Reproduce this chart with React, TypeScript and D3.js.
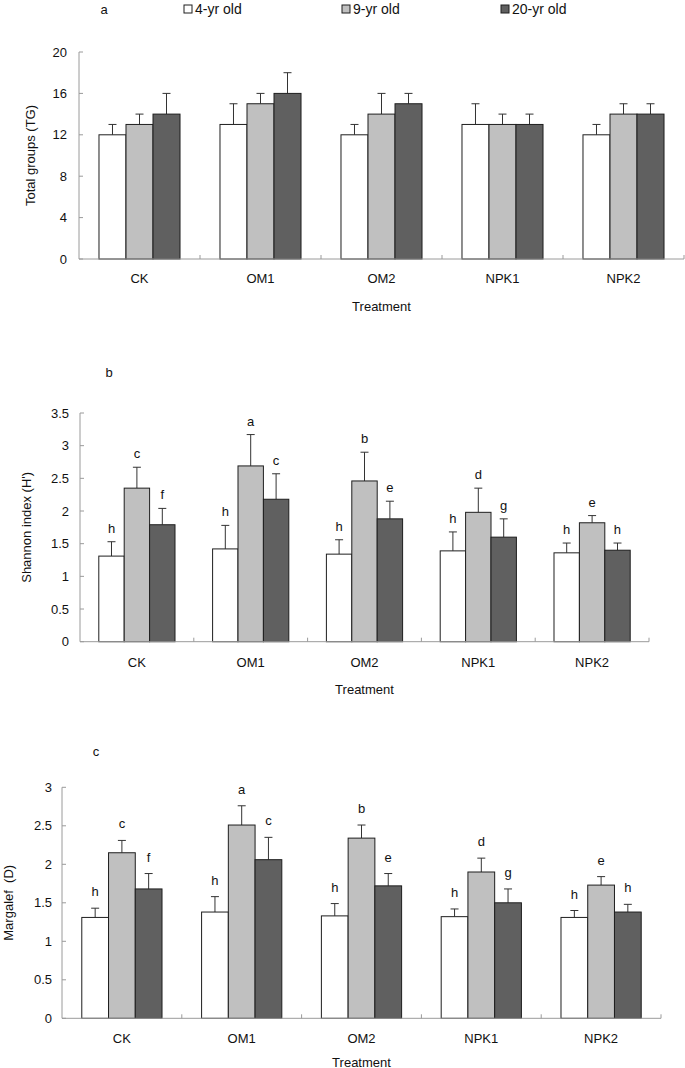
import * as d3 from 'd3';

const treatments = ['CK', 'OM1', 'OM2', 'NPK1', 'NPK2'];
const ages = ['4-yr old', '9-yr old', '20-yr old'];
const ageFills = ['#ffffff', '#c0c0c0', '#606060'];

// panel a: total groups (mean, sd) per treatment x age
const tgMean = [
  [12, 13, 14],
  [13, 15, 16],
  [12, 14, 15],
  [13, 13, 13],
  [12, 14, 14],
];
const tgSd = [
  [1, 1, 2],
  [2, 1, 2],
  [1, 2, 1],
  [2, 1, 1],
  [1, 1, 1],
];
const tgTicks = [0, 4, 8, 12, 16, 20];

// panel b: Shannon index
const shMean = [
  [1.31, 2.35, 1.79],
  [1.42, 2.69, 2.18],
  [1.34, 2.46, 1.88],
  [1.39, 1.98, 1.6],
  [1.36, 1.82, 1.4],
];
const shSd = [
  [0.22, 0.32, 0.25],
  [0.36, 0.48, 0.39],
  [0.22, 0.44, 0.27],
  [0.29, 0.37, 0.28],
  [0.15, 0.11, 0.11],
];
const shLetters = [
  ['h', 'c', 'f'],
  ['h', 'a', 'c'],
  ['h', 'b', 'e'],
  ['h', 'd', 'g'],
  ['h', 'e', 'h'],
];
const shTicks = [0, 0.5, 1, 1.5, 2, 2.5, 3, 3.5];

// panel c: Margalef
const mgMean = [
  [1.31, 2.15, 1.68],
  [1.38, 2.51, 2.06],
  [1.33, 2.34, 1.72],
  [1.32, 1.9, 1.5],
  [1.31, 1.73, 1.38],
];
const mgSd = [
  [0.12, 0.16, 0.2],
  [0.2, 0.25, 0.29],
  [0.16, 0.17, 0.16],
  [0.1, 0.18, 0.18],
  [0.09, 0.11, 0.1],
];
const mgLetters = [
  ['h', 'c', 'f'],
  ['h', 'a', 'c'],
  ['h', 'b', 'e'],
  ['h', 'd', 'g'],
  ['h', 'e', 'h'],
];
const mgTicks = [0, 0.5, 1, 1.5, 2, 2.5, 3];

const FONT = '"Liberation Sans", Arial, sans-serif';
const AXIS = '#9a9a9a';
const INK = '#1e1e1e';

type PanelProps = {
  left: number;
  right: number;
  top: number;
  bottom: number;
  ticks: number[];
  means: number[][];
  sds: number[][];
  letters?: string[][];
  letterGap?: number;
  yLabel: string;
  yLabelX: number;
  tickGap: number;
  catY: number;
  treatY: number;
  tag?: string;
  tagX?: number;
  tagY?: number;
};

function Panel(p: PanelProps) {
  const y = d3
    .scaleLinear()
    .domain([0, d3.max(p.ticks) as number])
    .range([p.bottom, p.top]);
  const x0 = d3.scaleBand<string>().domain(treatments).range([p.left, p.right]).padding(0);
  const x1 = d3
    .scaleBand<string>()
    .domain(ages)
    .range([0, x0.bandwidth()])
    .paddingInner(0)
    .paddingOuter(0.74);
  const bw = x1.bandwidth();
  const boundaries = treatments.map((t) => (x0(t) as number) + x0.step());
  const gap = p.letterGap ?? 9;

  return (
    <g fontFamily={FONT} fill="#111">
      {p.tag && (
        <text x={p.tagX} y={p.tagY} fontSize={13} textAnchor="middle" dominantBaseline="central">
          {p.tag}
        </text>
      )}
      {/* y axis */}
      <line x1={p.left} x2={p.left} y1={p.top} y2={p.bottom} stroke={AXIS} />
      {p.ticks.map((t) => (
        <g key={t}>
          <line x1={p.left} x2={p.left + 4} y1={y(t)} y2={y(t)} stroke={AXIS} />
          <text
            x={p.left - p.tickGap}
            y={y(t)}
            fontSize={13}
            textAnchor="end"
            dominantBaseline="central"
          >
            {String(t)}
          </text>
        </g>
      ))}
      <text
        transform={`translate(${p.yLabelX},${(p.top + p.bottom) / 2}) rotate(-90)`}
        fontSize={13}
        textAnchor="middle"
        dominantBaseline="central"
        style={{ whiteSpace: 'pre' }}
      >
        {p.yLabel}
      </text>
      {/* bars */}
      {treatments.map((t, i) => (
        <g key={t} transform={`translate(${x0(t)},0)`}>
          {ages.map((a, j) => {
            const m = p.means[i][j];
            const top = y(m + p.sds[i][j]);
            const cx = (x1(a) as number) + bw / 2;
            return (
              <g key={a}>
                <line x1={cx} x2={cx} y1={y(m)} y2={top} stroke="#333" />
                <line x1={cx - 4} x2={cx + 4} y1={top} y2={top} stroke="#333" />
                <rect
                  x={x1(a)}
                  y={y(m)}
                  width={bw}
                  height={p.bottom - y(m)}
                  fill={ageFills[j]}
                  stroke={INK}
                  strokeWidth={1}
                />
                {p.letters && (
                  <text x={cx} y={top - gap} fontSize={13} textAnchor="middle">
                    {p.letters[i][j]}
                  </text>
                )}
              </g>
            );
          })}
        </g>
      ))}
      {/* x axis */}
      <line x1={p.left} x2={p.right} y1={p.bottom} y2={p.bottom} stroke={AXIS} />
      {boundaries.map((bx, i) => (
        <line key={i} x1={bx} x2={bx} y1={p.bottom} y2={p.bottom - 4} stroke={AXIS} />
      ))}
      {treatments.map((t) => (
        <text
          key={t}
          x={(x0(t) as number) + x0.bandwidth() / 2}
          y={p.catY}
          fontSize={13}
          textAnchor="middle"
          dominantBaseline="central"
        >
          {t}
        </text>
      ))}
      <text
        x={(p.left + p.right) / 2}
        y={p.treatY}
        fontSize={13}
        textAnchor="middle"
        dominantBaseline="central"
      >
        Treatment
      </text>
    </g>
  );
}

function Legend() {
  const boxX = [188, 346, 505];
  return (
    <g fontFamily={FONT} fill="#111">
      <text x={104} y={9} fontSize={13} textAnchor="middle" dominantBaseline="central">
        a
      </text>
      {ages.map((a, j) => (
        <g key={a}>
          <rect x={boxX[j] - 4} y={5} width={8} height={8} fill={ageFills[j]} stroke={INK} />
          <text x={boxX[j] + 7} y={9} fontSize={14} dominantBaseline="central">
            {a}
          </text>
        </g>
      ))}
    </g>
  );
}

export default function App() {
  return (
    <svg
      width={685}
      height={1068}
      viewBox="0 0 685 1068"
      style={{ position: 'absolute', left: 0, top: 0, background: '#fff' }}
    >
      <rect width={685} height={1068} fill="#fff" />
      <Legend />
      <Panel
        left={79}
        right={684}
        top={52}
        bottom={259}
        ticks={tgTicks}
        means={tgMean}
        sds={tgSd}
        yLabel="Total groups (TG)"
        yLabelX={30}
        tickGap={12}
        catY={278}
        treatY={306}
      />
      <Panel
        left={80}
        right={649}
        top={413}
        bottom={641.7}
        ticks={shTicks}
        means={shMean}
        sds={shSd}
        letters={shLetters}
        letterGap={9}
        yLabel="Shannon index (H')"
        yLabelX={26}
        tickGap={11}
        catY={662}
        treatY={689}
        tag="b"
        tagX={109}
        tagY={372}
      />
      <Panel
        left={62}
        right={661}
        top={787.3}
        bottom={1018.3}
        ticks={mgTicks}
        means={mgMean}
        sds={mgSd}
        letters={mgLetters}
        letterGap={12}
        yLabel="Margalef  (D)"
        yLabelX={8}
        tickGap={10}
        catY={1038}
        treatY={1062}
        tag="c"
        tagX={96}
        tagY={751}
      />
    </svg>
  );
}
